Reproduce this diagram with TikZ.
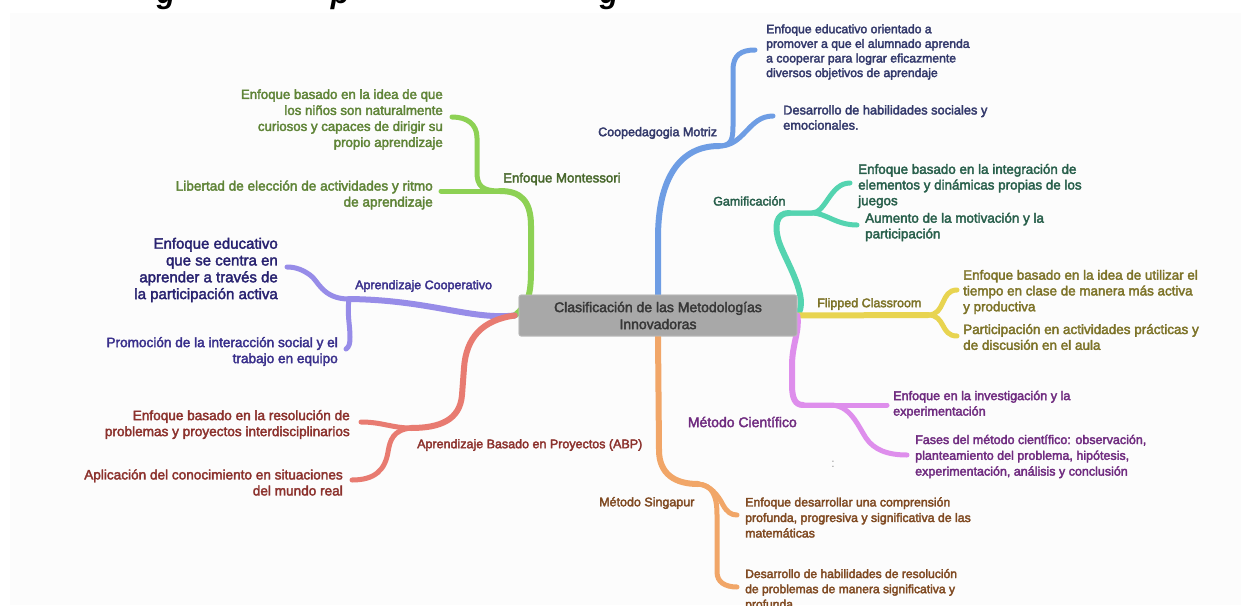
\documentclass[tikz,border=0pt]{standalone}
\usepackage{fontspec}
\setmainfont{Liberation Sans}
\definecolor{bg}{RGB}{252,252,252}
\definecolor{cGreen}{RGB}{141,209,84}
\definecolor{tGreen}{RGB}{95,132,55}
\definecolor{tGreenD}{RGB}{72,104,44}
\definecolor{cBlue}{RGB}{110,157,228}
\definecolor{tBlue}{RGB}{52,58,108}
\definecolor{cTeal}{RGB}{84,212,176}
\definecolor{tTeal}{RGB}{40,95,75}
\definecolor{cYel}{RGB}{232,212,80}
\definecolor{tYel}{RGB}{125,115,40}
\definecolor{cVio}{RGB}{222,142,236}
\definecolor{tVio}{RGB}{112,44,128}
\definecolor{cOra}{RGB}{241,166,104}
\definecolor{tOra}{RGB}{128,74,34}
\definecolor{cRed}{RGB}{232,123,113}
\definecolor{tRed}{RGB}{140,50,45}
\definecolor{cLav}{RGB}{151,140,232}
\definecolor{tLav}{RGB}{58,48,140}
\definecolor{tLavD}{RGB}{40,34,112}
\definecolor{boxfill}{RGB}{168,168,168}
\definecolor{boxline}{RGB}{190,190,190}
\definecolor{boxtext}{RGB}{55,55,55}
\definecolor{dotgray}{RGB}{150,150,150}
\tikzset{
  heavy/.style={execute at begin node={\special{pdf:literal direct 2 Tr 0.35 w}},
                execute at end node={\special{pdf:literal direct 0 Tr}}},
  lbl/.style={heavy, font=\fontsize{12.5}{15}\selectfont, inner sep=0pt, yshift=-2pt},
  leaf/.style={heavy, font=\fontsize{13}{15.7}\selectfont, inner sep=0pt, align=left, yshift=-2pt},
  leafr/.style={leaf, align=right, font=\fontsize{13.6}{16}\selectfont},
  trunk/.style={line width=6pt, line cap=round},
  twig/.style={line width=5pt, line cap=round},
  centerbox/.style={fill=boxfill, draw=boxline, line width=0.6pt, rounded corners=2pt,
      minimum width=278pt, minimum height=41pt, align=center, text=boxtext,
      font=\fontsize{14}{17}\selectfont, inner sep=0pt},
  frag/.style={font=\fontsize{30}{30}\selectfont\bfseries\itshape, anchor=base, inner sep=0pt},
}
\begin{document}
\begin{tikzpicture}[x=1pt,y=-1pt]
\useasboundingbox (0,0) rectangle (1241,605);
\fill[white] (0,0) rectangle (1241,605);
% cut-off title fragments
\begin{scope}
\clip (0,0) rectangle (1241,12);
\node[frag] (tg1) at (166,4) {g};
\node[frag] (tp) at (340,4) {p};
\node[frag] (tg2) at (609,4) {g};
\end{scope}
\fill[bg] (10,13) rectangle (1241,605);

% ---------- center ----------
\node[centerbox] (box) at (658,315.5) {Clasificación de las Metodologías\\Innovadoras};

% ---------- labels ----------
\node[lbl, text=tGreenD, anchor=west, font=\fontsize{13.2}{15}\selectfont] (mont) at (503,177) {Enfoque Montessori};
\node[lbl, text=tLav, anchor=west] (coop) at (355,284) {Aprendizaje Cooperativo};
\node[lbl, text=tRed, anchor=west] (abp) at (417,443) {Aprendizaje Basado en Proyectos (ABP)};
\node[lbl, text=tBlue, anchor=west] (moto) at (598,131) {Coopedagogia Motriz};
\node[lbl, text=tTeal, anchor=west] (gami) at (713,199) {Gamificación};
\node[lbl, text=tYel, anchor=west] (flip) at (817,302) {Flipped Classroom};
\node[lbl, text=tVio, anchor=east, font=\fontsize{14}{16}\selectfont] (cien) at (797,420) {Método Científico};
\node[lbl, text=tOra, anchor=west] (sing) at (599,501) {Método Singapur};

% ---------- leaves ----------
\node[leafr, text=tGreen, anchor=east, font=\fontsize{13.25}{16}\selectfont] (g1) at (443,117.5) {Enfoque basado en la idea de que\\los niños son naturalmente\\curiosos y capaces de dirigir su\\propio aprendizaje};
\node[leafr, text=tGreen, anchor=east] (g2) at (433,193) {Libertad de elección de actividades y ritmo\\de aprendizaje};
\node[leafr, text=tLavD, anchor=east, font=\fontsize{15}{16.8}\selectfont] (l1) at (278,268) {Enfoque educativo\\que se centra en\\aprender a través de\\la participación activa};
\node[leafr, text=tLav, anchor=east] (l2) at (338,349.5) {Promoción de la interacción social y el\\trabajo en equipo};
\node[leafr, text=tRed, anchor=east] (r1) at (350,422.5) {Enfoque basado en la resolución de\\problemas y proyectos interdisciplinarios};
\node[leafr, text=tRed, anchor=east] (r2) at (343,480.5) {Aplicación del conocimiento en situaciones\\del mundo real};
\node[leaf, text=tBlue, anchor=west, font=\fontsize{12.2}{14.6}\selectfont] (b1) at (766,50) {Enfoque educativo orientado a\\promover a que el alumnado aprenda\\a cooperar para lograr eficazmente\\diversos objetivos de aprendaje};
\node[leaf, text=tBlue, anchor=west, font=\fontsize{12.8}{15.2}\selectfont] (b2) at (783,115.5) {Desarrollo de habilidades sociales y\\emocionales.};
\node[leaf, text=tTeal, anchor=west, font=\fontsize{13.4}{15.7}\selectfont] (t1) at (858,184) {Enfoque basado en la integración de\\elementos y dinámicas propias de los\\juegos};
\node[leaf, text=tTeal, anchor=west, font=\fontsize{13.4}{15.7}\selectfont] (t2) at (865,225) {Aumento de la motivación y la\\participación};
\node[leaf, text=tYel, anchor=west, font=\fontsize{13.4}{15.8}\selectfont] (y1) at (963,290) {Enfoque basado en la idea de utilizar el\\tiempo en clase de manera más activa\\y productiva};
\node[leaf, text=tYel, anchor=west, font=\fontsize{13.5}{15.8}\selectfont] (y2) at (963,335) {Participación en actividades prácticas y\\de discusión en el aula};
\node[leaf, text=tVio, anchor=west, font=\fontsize{12.6}{15.5}\selectfont] (v1) at (893,402.5) {Enfoque en la investigación y la\\experimentación};
\node[leaf, text=tVio, anchor=west, font=\fontsize{12.5}{15.8}\selectfont] (v2) at (915,454.5) {Fases del método científico: observación,\\planteamiento del problema, hipótesis,\\experimentación, análisis y conclusión};
\node[leaf, text=tOra, anchor=west, font=\fontsize{12.3}{15.5}\selectfont] (o1) at (745,515.5) {Enfoque desarrollar una comprensión\\profunda, progresiva y significativa de las\\matemáticas};
\node[leaf, text=tOra, anchor=west, font=\fontsize{12.1}{15.2}\selectfont] (o2) at (745,588) {Desarrollo de habilidades de resolución\\de problemas de manera significativa y\\profunda};
\node[text=dotgray, inner sep=0pt, font=\fontsize{12}{12}\selectfont] (dots) at (833,464) {:};

% ---------- junctions and ends ----------
\coordinate (jM) at (500,191);
\coordinate (eM1) at (452,117);
\coordinate (eM2) at (441,191);
\coordinate (jC) at (349,299);
\coordinate (eC1) at (287,267);
\coordinate (eC2) at (346,349);
\coordinate (jA) at (411,428);
\coordinate (eA1) at (361,422);
\coordinate (eA2) at (352,480);
\coordinate (jB) at (719,146);
\coordinate (eB1) at (755,50);
\coordinate (eB2) at (773,116);
\coordinate (jG) at (789,213);
\coordinate (eG1) at (850,183);
\coordinate (eG2) at (857,225);
\coordinate (jF) at (928,315);
\coordinate (eF1) at (957,290);
\coordinate (eF2) at (957,336);
\coordinate (jS) at (803,405);
\coordinate (eS1) at (887,405);
\coordinate (eS2) at (907,455);
\coordinate (jP) at (698,484);
\coordinate (eP1) at (737,515);
\coordinate (eP2) at (737,587);

% ---------- branches ----------
% green
\draw[trunk, cGreen] ([xshift=-4pt]box.west) .. controls (528,305) and (531,295) .. (531,270) -- (531,226) .. controls (531,200) and (520,191) .. (jM);
\draw[twig, cGreen] (jM) .. controls (482,191) and (477,186) .. (477,172) -- (477,138) .. controls (477,124) and (467,117) .. (eM1);
\draw[twig, cGreen] (jM) -- (eM2);
% lavender
\draw[trunk, cLav] ([xshift=-4pt]box.west) .. controls (470,320) and (430,300) .. (jC);
\draw[twig, cLav] (jC) .. controls (322,299) and (318,280) .. (310,275) .. controls (303,270) and (296,267) .. (eC1);
\draw[twig, cLav] (jC) .. controls (347,315) and (350,325) .. (350,337) .. controls (350,344) and (349,347) .. (eC2);
% red
\draw[trunk, cRed] ([xshift=-4pt]box.west) .. controls (482,320) and (466,338) .. (464,368) -- (462,395) .. controls (460,420) and (440,428) .. (jA);
\draw[twig, cRed] (jA) .. controls (392,428) and (382,422) .. (eA1);
\draw[twig, cRed] (jA) .. controls (393,430) and (390,440) .. (388,452) .. controls (385,470) and (375,480) .. (eA2);
% blue
\draw[trunk, cBlue] (box.north) -- (658,238) .. controls (658,178) and (680,146) .. (jB);
\draw[twig, cBlue] (jB) .. controls (731,146) and (733,140) .. (733,126) -- (733,70) .. controls (733,55) and (741,50) .. (eB1);
\draw[twig, cBlue] (jB) .. controls (745,146) and (748,116) .. (eB2);
% teal
\draw[trunk, cTeal] (box.east) .. controls (810,298) and (786,262) .. (779,242) .. controls (774,226) and (776,213) .. (jG);
\draw[twig, cTeal] (jG) -- (812,213) .. controls (826,213) and (830,183) .. (eG1);
\draw[twig, cTeal] (jG) -- (812,213) .. controls (826,213) and (836,225) .. (eG2);
% yellow
\draw[trunk, cYel] (box.east) -- (jF);
\draw[twig, cYel] (jF) .. controls (946,315) and (940,290) .. (eF1);
\draw[twig, cYel] (jF) .. controls (946,315) and (940,336) .. (eF2);
% violet
\draw[trunk, cVio] (box.east) .. controls (800,330) and (792,345) .. (792,365) -- (792,385) .. controls (792,398) and (795,405) .. (jS);
\draw[twig, cVio] (jS) -- (eS1);
\draw[twig, cVio] (jS) -- (830,405) .. controls (850,405) and (857,424) .. (866,438) .. controls (874,450) and (888,455) .. (eS2);
% orange
\draw[trunk, cOra] (box.south) -- (659,450) .. controls (659,474) and (675,484) .. (jP);
\draw[twig, cOra] (jP) .. controls (710,485) and (718,495) .. (723,505) .. controls (727,512) and (731,515) .. (eP1);
\draw[twig, cOra] (jP) .. controls (712,485) and (717,495) .. (717,515) -- (717,572) .. controls (717,582) and (725,587) .. (eP2);

% box drawn again on top of the branch roots
\node[centerbox, heavy] (boxtop) at (box.center) {Clasificación de las Metodologías\\Innovadoras};
\end{tikzpicture}
\end{document}
